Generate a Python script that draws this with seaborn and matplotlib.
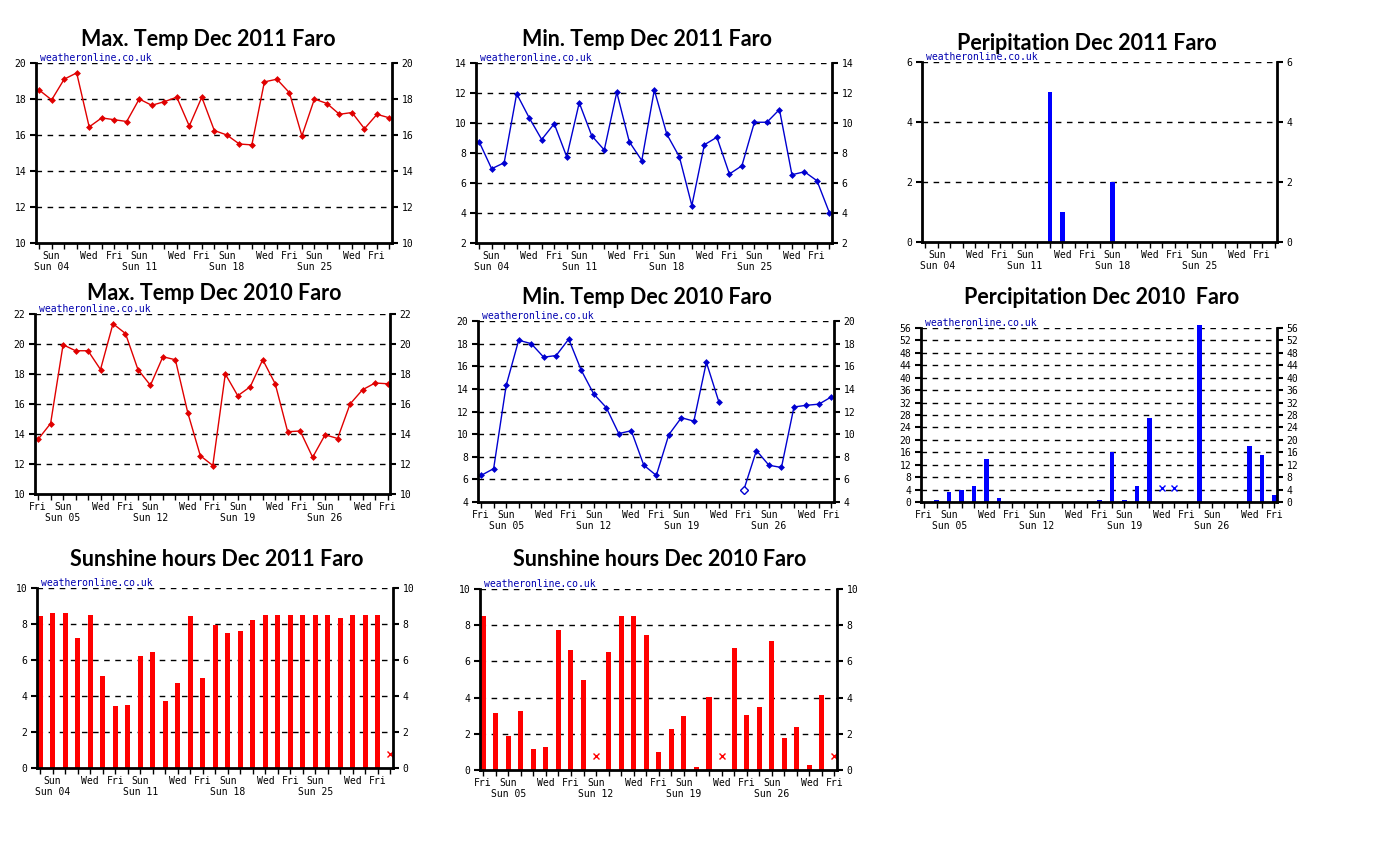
import numpy as np
import pandas as pd
import seaborn as sns
import matplotlib
matplotlib.use("Agg")
from matplotlib import pyplot as plt

# days shown in every panel (3rd to 31st of December)
days = list(range(3, 32))

max_2011 = [18.5, 17.95, 19.1, 19.45, 16.45, 16.95, 16.85, 16.75, 18.0, 17.65,
            17.85, 18.1, 16.5, 18.1, 16.25, 16.0, 15.5, 15.45, 18.95, 19.1,
            18.35, 15.95, 18.0, 17.75, 17.15, 17.25, 16.35, 17.15, 16.95]
min_2011 = [8.75, 6.95, 7.35, 11.95, 10.35, 8.9, 9.95, 7.75, 11.35, 9.15,
            8.2, 12.05, 8.75, 7.5, 12.2, 9.25, 7.75, 4.5, 8.55, 9.05,
            6.6, 7.15, 10.05, 10.05, 10.9, 6.55, 6.75, 6.15, 4.0]
rain_2011 = [0, 0, 0, 0, 0, 0, 0, 0, 0, 0,
             5, 1, 0, 0, 0, 2, 0, 0, 0, 0,
             0, 0, 0, 0, 0, 0, 0, 0, 0]
max_2010 = [13.65, 14.7, 19.95, 19.55, 19.55, 18.3, 21.35, 20.7, 18.3, 17.25,
            19.15, 18.95, 15.4, 12.55, 11.9, 18.0, 16.55, 17.15, 18.95, 17.35,
            14.15, 14.2, 12.45, 13.95, 13.7, 16.0, 16.95, 17.4, 17.35]
min_2010 = [6.35, 6.95, 14.3, 18.3, 18.0, 16.8, 16.95, 18.4, 15.65, 13.55,
            12.35, 10.05, 10.3, 7.25, 6.35, 9.95, 11.45, 11.15, 16.35, 12.85,
            np.nan, 5.1, 8.55, 7.25, 7.05, 12.4, 12.55, 12.65, 13.3]
rain_2010 = [0, 0.5, 3.2, 4.0, 5.0, 14.0, 1.3, 0, 0, 0,
             0, 0, 0, 0, 0.5, 16.0, 0.7, 5.0, 27.0, np.nan,
             np.nan, 0, 57.0, 0, 0, 0, 18.0, 15.0, 2.2]
sun_2011 = [8.46, 8.61, 8.61, 7.22, 8.52, 5.13, 3.46, 3.52, 6.24, 6.46,
            3.74, 4.74, 8.46, 5.02, 7.96, 7.5, 7.63, 8.24, 8.52, 8.52,
            8.52, 8.52, 8.52, 8.52, 8.35, 8.52, 8.52, 8.52, np.nan]
sun_2010 = [8.52, 3.15, 1.88, 3.27, 1.16, 1.27, 7.75, 6.64, 4.98, np.nan,
            6.53, 8.52, 8.49, 7.47, 1.0, 2.27, 2.99, 0.17, 4.02, np.nan,
            6.75, 3.04, 3.49, 7.14, 1.77, 2.38, 0.28, 4.15, np.nan]

ticks_2011 = [4, 7, 9, 11, 14, 16, 18, 21, 23, 25, 28, 30]
labels_2011 = ["Sun\nSun 04", "Wed", "Fri", "Sun\nSun 11", "Wed", "Fri",
               "Sun\nSun 18", "Wed", "Fri", "Sun\nSun 25", "Wed", "Fri"]
sundays_2011 = [4, 11, 18, 25]
ticks_2010 = [3, 5, 8, 10, 12, 15, 17, 19, 22, 24, 26, 29, 31]
labels_2010 = ["Fri", "Sun\nSun 05", "Wed", "Fri", "Sun\nSun 12", "Wed", "Fri",
               "Sun\nSun 19", "Wed", "Fri", "Sun\nSun 26", "Wed", "Fri"]
sundays_2010 = [5, 12, 19, 26]

W, H = 1398, 844
RED = "#e00000"
BLUE = "#0000d0"
MONO = "DejaVu Sans Mono"

plt.rcParams['font.family'] = ['DejaVu Sans']
fig = plt.figure(figsize=(W / 100, H / 100), dpi=100)


def make_ax(l, t, r, b):
    return fig.add_axes([l / W, 1 - b / H, (r - l) / W, (b - t) / H])


def style_ax(ax, ymin, ymax, ystep, ticks, labels, sundays):
    """Axis look of the weatheronline charts."""
    ax.set_xlim(2.75, 31.2)
    ax.set_ylim(ymin, ymax)
    yt = np.arange(ymin, ymax + 0.01, ystep)
    ax.set_yticks(yt)
    ax.set_yticklabels([f"{v:g}" for v in yt], family=MONO, fontsize=7)
    for y in yt[1:]:
        ax.axhline(y, color="black", lw=1, ls=(0, (4, 4)), zorder=0)
    ax.tick_params(axis="y", left=True, right=True, labelleft=True,
                   labelright=True, length=4, width=1.5, pad=3)
    # every day a small tick, labels only on some
    lab = {d: s for d, s in zip(ticks, labels)}
    ax.set_xticks(days)
    ax.set_xticklabels([lab.get(d, "") for d in days], family=MONO,
                       fontsize=7, linespacing=1.1)
    ax.set_xticks(sundays, minor=True)
    ax.tick_params(axis="x", which="major", length=4, width=1, pad=2)
    ax.tick_params(axis="x", which="minor", length=8, width=2)
    ax.spines["top"].set_visible(False)
    for s in ["left", "right", "bottom"]:
        ax.spines[s].set_linewidth(2)
    ax.set_xlabel("")
    ax.set_ylabel("")
    ax.set_facecolor("white")
    ax.text(0.01, 1.0, "weatheronline.co.uk", transform=ax.transAxes,
            family=MONO, fontsize=7, color="#0000b0", va="bottom", ha="left")


def title(x, y, s):
    fig.text(x / W, 1 - y / H, s, ha="center", va="center",
             fontsize=15.5, fontweight="bold", family="Lato")


def line_panel(ax, vals, color):
    v = np.array(vals, dtype=float)
    seg = np.cumsum(np.isnan(v))
    df = pd.DataFrame({"day": days, "val": v, "seg": seg}).dropna()
    sns.lineplot(data=df, x="day", y="val", units="seg", estimator=None,
                 color=color, lw=1, marker="D", markersize=3.5,
                 markeredgewidth=0, ax=ax)
    # a point right after a gap is drawn hollow
    d = np.array(days)
    after_gap = np.r_[False, np.isnan(v[:-1])] & ~np.isnan(v)
    if after_gap.any():
        ax.plot(d[after_gap], v[after_gap], "D", ms=4, mfc="white",
                mec=color, mew=1, zorder=5)


def bar_panel(ax, vals, color, width, miss_y):
    v = np.array(vals, dtype=float)
    d = np.array(days)
    ok = ~np.isnan(v)
    sns.barplot(x=d[ok], y=v[ok], native_scale=True, width=width,
                color=color, saturation=1, errorbar=None, linewidth=0, ax=ax)
    if (~ok).any():
        ax.plot(d[~ok], [miss_y] * (~ok).sum(), "x", color=color, ms=5, mew=1,
                clip_on=False)


# row 1 - December 2011
ax1 = make_ax(36, 63, 392, 243)
line_panel(ax1, max_2011, RED)
style_ax(ax1, 10, 20, 2, ticks_2011, labels_2011, sundays_2011)
title(208, 40, "Max. Temp Dec 2011 Faro")

ax2 = make_ax(476, 63, 832, 243)
line_panel(ax2, min_2011, BLUE)
style_ax(ax2, 2, 14, 2, ticks_2011, labels_2011, sundays_2011)
title(647, 40, "Min. Temp Dec 2011 Faro")

ax3 = make_ax(922, 62, 1277, 242)
bar_panel(ax3, rain_2011, "#0000ff", 0.36, 0)
style_ax(ax3, 0, 6, 2, ticks_2011, labels_2011, sundays_2011)
title(1087, 43, "Peripitation Dec 2011 Faro")

# row 2 - December 2010
ax4 = make_ax(35, 314, 390, 494)
line_panel(ax4, max_2010, RED)
style_ax(ax4, 10, 22, 2, ticks_2010, labels_2010, sundays_2010)
title(214, 293, "Max. Temp Dec 2010 Faro")

ax5 = make_ax(478, 321, 834, 502)
line_panel(ax5, min_2010, BLUE)
style_ax(ax5, 4, 20, 2, ticks_2010, labels_2010, sundays_2010)
title(647, 297, "Min. Temp Dec 2010 Faro")

ax6 = make_ax(921, 328, 1277, 502)
bar_panel(ax6, rain_2010, "#0000ff", 0.36, 4.6)
style_ax(ax6, 0, 56, 4, ticks_2010, labels_2010, sundays_2010)
for p in ax6.patches:
    p.set_clip_on(False)
title(1102, 297, "Percipitation Dec 2010  Faro")

# row 3 - sunshine
ax7 = make_ax(37, 588, 393, 768)
bar_panel(ax7, sun_2011, "#ff0000", 0.4, 0.8)
style_ax(ax7, 0, 10, 2, ticks_2011, labels_2011, sundays_2011)
title(217, 560, "Sunshine hours Dec 2011 Faro")

ax8 = make_ax(480, 589, 837, 770)
bar_panel(ax8, sun_2010, "#ff0000", 0.4, 0.8)
style_ax(ax8, 0, 10, 2, ticks_2010, labels_2010, sundays_2010)
title(660, 560, "Sunshine hours Dec 2010 Faro")

fig.savefig("out.png", dpi=100, facecolor="white")
